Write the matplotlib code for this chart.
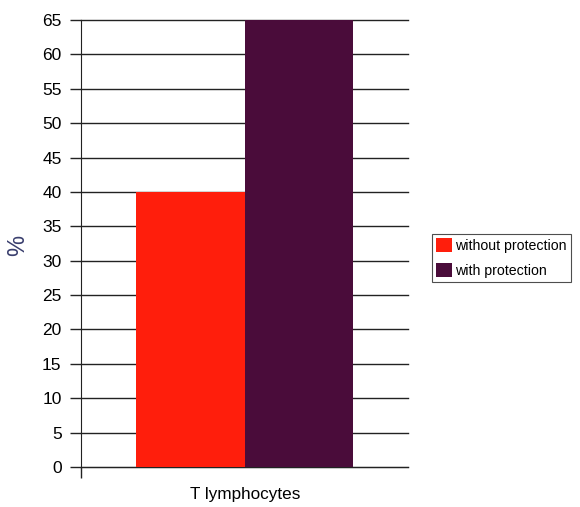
import matplotlib.pyplot as plt

plt.rcParams["font.family"] = ["Liberation Sans", "DejaVu Sans"]

categories = ["T lymphocytes"]
series = ["without protection", "with protection"]
values = [40, 65]
colors = ["#FF1E0C", "#4A0C3A"]
yticks = list(range(0, 70, 5))

fig = plt.figure(figsize=(5.8, 5.07), dpi=100)
ax = fig.add_axes([81 / 580, 1 - 467 / 507, 327 / 580, 447 / 507])

width = 0.333
offsets = [-width / 2, width / 2]
for name, val, col, off in zip(series, values, colors, offsets):
    ax.bar(0 + off, val, width=width, color=col, label=name, zorder=3)

ax.set_xlim(-0.5, 0.5)
ax.set_ylim(0, 65)
ax.set_yticks(yticks)
ax.yaxis.grid(True, color="#222222", linewidth=1.0, zorder=0)
for line in ax.get_ygridlines():
    line.set_clip_on(False)

ax.spines["top"].set_visible(False)
ax.spines["right"].set_visible(False)
ax.spines["left"].set_color("#222222")
ax.spines["bottom"].set_color("#222222")
ax.tick_params(axis="y", direction="out", length=8, width=1, color="#222222",
               labelsize=12.5, pad=6)
ax.set_xticks([-0.5])
ax.set_xticklabels([""])
ax.tick_params(axis="x", direction="out", length=8, width=1, color="#222222")

fig.text(245 / 580, 1 - 495 / 507, categories[0], fontsize=12.3,
         ha="center", va="center")
fig.text(18 / 580, 1 - 245 / 507, "%", fontsize=17, color="#3A3F6E",
         rotation=90, ha="center", va="center")

leg = fig.legend(loc="upper left", bbox_to_anchor=(432 / 580, 1 - 234 / 507),
                 fontsize=10.2, frameon=True, fancybox=False, edgecolor="#222222",
                 handlelength=1.1, handleheight=1.1, handletextpad=0.25,
                 borderpad=0.3, labelspacing=0.75, borderaxespad=0)
leg.get_frame().set_linewidth(0.8)

fig.savefig("out.png", dpi=100)
